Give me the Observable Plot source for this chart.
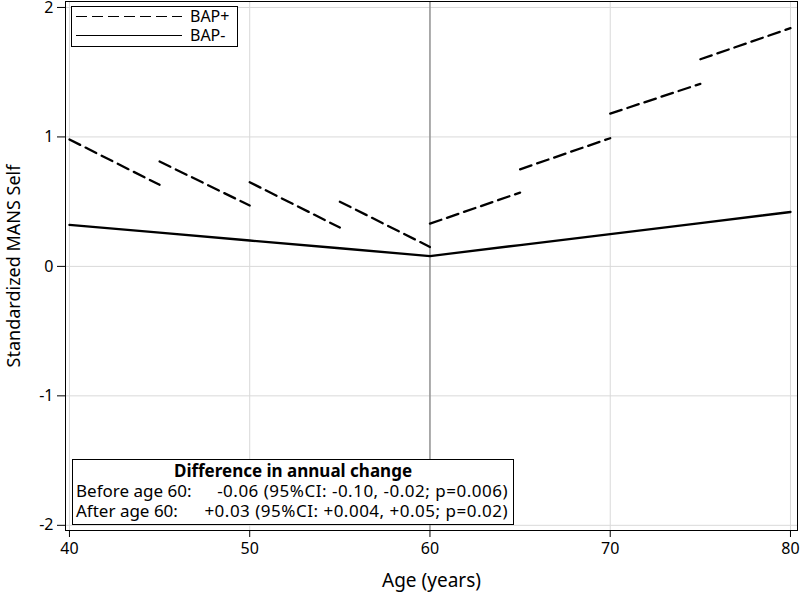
<!DOCTYPE html>
<html>
<head>
<meta charset="utf-8">
<script src="https://cdn.jsdelivr.net/npm/d3@7"></script>
<script src="https://cdn.jsdelivr.net/npm/@observablehq/plot@0.6"></script>
<style>
  body { margin: 0; background: #fff; font-family: "Noto Sans", "Open Sans", sans-serif; }
  #wrap { position: relative; width: 800px; height: 594px; }
  .box { position: absolute; background: #fff; border: 1px solid #000; box-sizing: border-box; color: #000; }
  #legend { left: 71px; top: 6px; width: 167px; height: 41px; font-size: 16px; line-height: 19px; }
  #legend .row { position: absolute; left: 0; height: 19px; display: flex; align-items: center; }
  #legend svg { margin-left: 4px; margin-right: 8px; }
  #stats { left: 72px; top: 459px; width: 442px; height: 66px; font-size: 17px; line-height: 20px; }
  #stats .title { text-align: center; font-weight: bold; margin-top: 1px; height: 20px; }
  #stats .row { position: relative; height: 20px; white-space: nowrap; }
  #stats .l { position: absolute; left: 3px; }
  #stats .r { position: absolute; right: 5px; letter-spacing: 0.5px; }
</style>
</head>
<body>
<div id="wrap"></div>
<script>
// Data
const agesMinus = [40, 45, 50, 55, 60, 65, 70, 75, 80];
const bapMinus  = [0.32, 0.26, 0.20, 0.14, 0.08, 0.165, 0.25, 0.335, 0.42];

const segStartAge = [40, 45, 50, 55, 60, 65, 70, 75];
const segEndAge   = [45, 50, 55, 60, 65, 70, 75, 80];
const bapPlusStart = [0.98, 0.81, 0.65, 0.50, 0.33, 0.75, 1.18, 1.60];
const bapPlusEnd   = [0.63, 0.47, 0.30, 0.15, 0.57, 0.99, 1.41, 1.84];

const xTicks = [40, 50, 60, 70, 80];
const yTicks = [-2, -1, 0, 1, 2];
const breakAge = [60];

const legendLabels = ["BAP+", "BAP-"];
const statsTitle = "Difference in annual change";
const statsRows = [
  ["Before age 60:", "-0.06 (95%CI: -0.10, -0.02; p=0.006)"],
  ["After age 60:", "+0.03 (95%CI: +0.004, +0.05; p=0.02)"]
];

// Build tables
const minusData = agesMinus.map((a, i) => ({age: a, v: bapMinus[i]}));
const plusData = [];
segStartAge.forEach((a, i) => {
  plusData.push({age: a, v: bapPlusStart[i], seg: i});
  plusData.push({age: segEndAge[i], v: bapPlusEnd[i], seg: i});
});

const chart = Plot.plot({
  width: 800,
  height: 594,
  marginLeft: 65,
  marginRight: 3,
  marginTop: 1,
  marginBottom: 64,
  style: {fontFamily: "'Noto Sans', 'Open Sans', sans-serif", fontSize: "16px", color: "#000", background: "#fff", overflow: "visible"},
  x: {domain: [39.78, 80.39]},
  y: {domain: [-2.04, 2.046]},
  marks: [
    Plot.gridX(xTicks, {stroke: "#d9d9d9", strokeOpacity: 1, strokeWidth: 1}),
    Plot.gridY(yTicks, {stroke: "#d9d9d9", strokeOpacity: 1, strokeWidth: 1}),
    Plot.ruleX(breakAge, {stroke: "#808080", strokeWidth: 1.2}),
    Plot.line(minusData, {x: "age", y: "v", stroke: "#000", strokeWidth: 2.3}),
    Plot.line(plusData, {x: "age", y: "v", z: "seg", stroke: "#000", strokeWidth: 2.3, strokeDasharray: "12,6"}),
    Plot.frame({stroke: "#000", strokeWidth: 1}),
    Plot.axisX(xTicks, {tickSize: 7, tickPadding: 5, fontSize: 16, tickFormat: d => String(d), label: null}),
    Plot.axisY(yTicks, {tickSize: 8, tickPadding: 4, fontSize: 16, tickFormat: d => String(d), label: null}),
    Plot.axisX({ticks: [], tickSize: 0, fontSize: 19, label: "Age (years)", labelAnchor: "center", labelOffset: 56, labelArrow: "none"}),
    Plot.axisY({ticks: [], tickSize: 0, fontSize: 18, label: "Standardized MANS Self", labelAnchor: "center", labelOffset: 58, labelArrow: "none"})
  ]
});
// enlarge numeric tick labels
const tickStrings = new Set([...xTicks, ...yTicks].map(String));
d3.select(chart).selectAll("text").each(function() {
  if (tickStrings.has(this.textContent.trim())) {
    this.style.fontSize = "16px";
    this.setAttribute("font-size", "16");
  }
});

const wrap = document.getElementById("wrap");
wrap.appendChild(chart);

// Legend (HTML overlay)
const legend = document.createElement("div");
legend.id = "legend";
legend.className = "box";
const dashes = ["11,5", null];
legendLabels.forEach((lab, i) => {
  const row = document.createElement("div");
  row.className = "row";
  row.style.top = (i === 0 ? 0 : 19) + "px";
  const s = d3.create("svg").attr("width", 106).attr("height", 19);
  const ln = s.append("line").attr("x1", 0).attr("x2", 106).attr("y1", 9.5).attr("y2", 9.5)
    .attr("stroke", "#000").attr("stroke-width", 1.2);
  if (dashes[i]) ln.attr("stroke-dasharray", dashes[i]);
  row.appendChild(s.node());
  const t = document.createElement("span");
  t.textContent = lab;
  row.appendChild(t);
  legend.appendChild(row);
});
wrap.appendChild(legend);

// Stats box (HTML overlay)
const stats = document.createElement("div");
stats.id = "stats";
stats.className = "box";
const ti = document.createElement("div");
ti.className = "title";
ti.textContent = statsTitle;
stats.appendChild(ti);
statsRows.forEach(([l, r]) => {
  const row = document.createElement("div");
  row.className = "row";
  const a = document.createElement("span"); a.className = "l"; a.textContent = l;
  const b = document.createElement("span"); b.className = "r"; b.textContent = r;
  row.appendChild(a); row.appendChild(b);
  stats.appendChild(row);
});
wrap.appendChild(stats);
</script>
</body>
</html>
